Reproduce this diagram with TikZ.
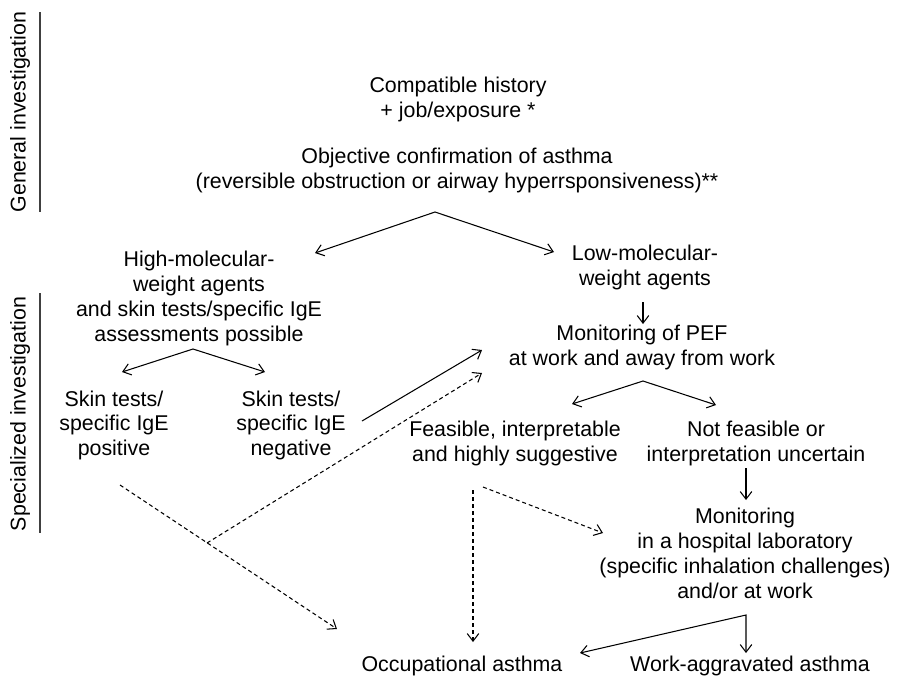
\documentclass[tikz,border=0pt]{standalone}
\usepackage{fontspec}
\setmainfont{Liberation Sans}
\usetikzlibrary{arrows.meta}

\begin{document}
\begin{tikzpicture}[x=0.025cm,y=-0.025cm,line width=0.75pt,
  >={Straight Barb[length=1.9mm,width=2.9mm]},
  txt/.style={align=center,inner sep=0pt,font=\fontsize{15.2}{17.6}\selectfont},
  dsh/.style={dash pattern=on 1mm off 0.75mm},
  bar/.style={line width=1pt,black!75}]
\useasboundingbox (0,0) rectangle (898,680);

% side labels
\node[txt,rotate=90] (geninv) at (20,112) {General investigation};
\node[txt,rotate=90] (specinv) at (20,414) {Specialized investigation};
\draw[bar] (40,12) -- (40,212);
\draw[bar] (40,293) -- (40,533);

% text blocks
\node[txt] (hist) at (458,100) {\strut Compatible history\\\strut + job/exposure *};
\node[txt] (obj) at (457,171) {\strut Objective confirmation of asthma\\
  \strut (reversible obstruction or airway hyperrsponsiveness)**};
\node[txt] (hmw) at (199,299) {\strut High-molecular-\\\strut weight agents\\
  \strut and skin tests/specific IgE\\\strut assessments possible};
\node[txt] (lmw) at (645,268) {\strut Low-molecular-\\\strut weight agents};
\node[txt] (pef) at (642,348) {\strut Monitoring of PEF\\\strut at work and away from work};
\node[txt] (pos) at (114,426) {\strut Skin tests/\\\strut specific IgE\\\strut positive};
\node[txt] (neg) at (291,426) {\strut Skin tests/\\\strut specific IgE\\\strut negative};
\node[txt] (feas) at (515,444) {\strut Feasible, interpretable\\\strut and highly suggestive};
\node[txt] (notf) at (756,444) {\strut Not feasible or\\\strut interpretation uncertain};
\node[txt] (lab) at (745,556) {\strut Monitoring\\\strut in a hospital laboratory\\
  \strut (specific inhalation challenges)\\\strut and/or at work};
\node[txt] (occ) at (462,667) {\strut Occupational asthma};
\node[txt] (wa) at (750,667) {\strut Work-aggravated asthma};

% fork points and arrow ends
\coordinate (objfork) at (435,212);
\coordinate (hmwin) at (315,253);
\coordinate (lmwin) at (554,252);
\coordinate (lmwout) at (643,302);
\coordinate (pefin) at (643,324);
\coordinate (peffork) at (643,381);
\coordinate (feasin) at (572,404);
\coordinate (notfin) at (716,405);
\coordinate (notfout) at (746,468);
\coordinate (labin) at (746,500);
\coordinate (labfork) at (746,615);
\coordinate (occin) at (580,653);
\coordinate (wain) at (746,653);
\coordinate (hmwfork) at (193,349);
\coordinate (posin) at (122,372);
\coordinate (negin) at (265,372);
\coordinate (negout) at (362,421);
\coordinate (pefside) at (482,350);
\coordinate (posout) at (120,485);
\coordinate (occside) at (337,629);
\coordinate (cross) at (207,543);
\coordinate (pefdash) at (482,373);
\coordinate (feasout) at (483,487);
\coordinate (labside) at (603,533);
\coordinate (feasdown) at (473,490);
\coordinate (occtop) at (473,642);

% solid connectors
\draw[<->] (hmwin) -- (objfork) -- (lmwin);
\draw[->] (lmwout) -- (pefin);
\draw[<->] (feasin) -- (peffork) -- (notfin);
\draw[->] (notfout) -- (labin);
\draw[<->] (occin) -- (labfork) -- (wain);
\draw[<->] (posin) -- (hmwfork) -- (negin);
\draw[->] (negout) -- (pefside);

% dashed connectors
\draw[->,dsh] (posout) -- (occside);
\draw[->,dsh] (cross) -- (pefdash);
\draw[->,dsh] (feasout) -- (labside);
\draw[->,dsh] (feasdown) -- (occtop);
\end{tikzpicture}
\end{document}
